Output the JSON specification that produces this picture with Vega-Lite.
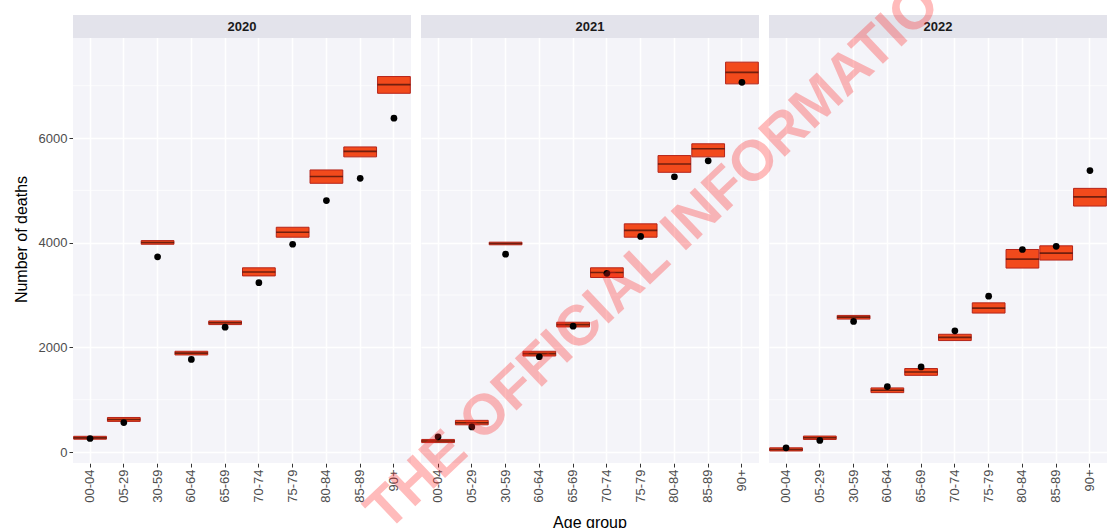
{
  "$schema": "https://vega.github.io/schema/vega-lite/v6.json",
  "padding": {"left": 13, "top": -27, "right": 0, "bottom": 0},
  "background": "white",
  "bounds": "flush",
  "config": {
    "view": {"fill": "#F4F4F9", "stroke": null},
    "font": "Liberation Sans"
  },
  "data": {
    "values": [
      {"year": "2020", "age": "00-04", "lo": 245, "med": 270, "hi": 300, "obs": 258},
      {"year": "2020", "age": "05-29", "lo": 585, "med": 622, "hi": 660, "obs": 562},
      {"year": "2020", "age": "30-59", "lo": 3970, "med": 4005, "hi": 4040, "obs": 3730},
      {"year": "2020", "age": "60-64", "lo": 1855, "med": 1890, "hi": 1925, "obs": 1770},
      {"year": "2020", "age": "65-69", "lo": 2435, "med": 2470, "hi": 2505, "obs": 2385},
      {"year": "2020", "age": "70-74", "lo": 3365, "med": 3440, "hi": 3520, "obs": 3235},
      {"year": "2020", "age": "75-79", "lo": 4105, "med": 4200, "hi": 4295, "obs": 3970},
      {"year": "2020", "age": "80-84", "lo": 5135, "med": 5265, "hi": 5390, "obs": 4805},
      {"year": "2020", "age": "85-89", "lo": 5640, "med": 5745, "hi": 5830, "obs": 5230},
      {"year": "2020", "age": "90+", "lo": 6855, "med": 7020, "hi": 7175, "obs": 6380},
      {"year": "2021", "age": "00-04", "lo": 180, "med": 210, "hi": 240, "obs": 290},
      {"year": "2021", "age": "05-29", "lo": 520, "med": 560, "hi": 605, "obs": 480},
      {"year": "2021", "age": "30-59", "lo": 3960, "med": 3985, "hi": 4010, "obs": 3780},
      {"year": "2021", "age": "60-64", "lo": 1835, "med": 1880, "hi": 1925, "obs": 1820},
      {"year": "2021", "age": "65-69", "lo": 2390, "med": 2435, "hi": 2480, "obs": 2405},
      {"year": "2021", "age": "70-74", "lo": 3335, "med": 3430, "hi": 3520, "obs": 3415},
      {"year": "2021", "age": "75-79", "lo": 4105, "med": 4235, "hi": 4360, "obs": 4120},
      {"year": "2021", "age": "80-84", "lo": 5345, "med": 5505, "hi": 5665, "obs": 5260},
      {"year": "2021", "age": "85-89", "lo": 5640, "med": 5795, "hi": 5890, "obs": 5565},
      {"year": "2021", "age": "90+", "lo": 7035, "med": 7255, "hi": 7450, "obs": 7065},
      {"year": "2022", "age": "00-04", "lo": 20, "med": 48, "hi": 80, "obs": 80},
      {"year": "2022", "age": "05-29", "lo": 240, "med": 272, "hi": 305, "obs": 222},
      {"year": "2022", "age": "30-59", "lo": 2540, "med": 2577, "hi": 2610, "obs": 2495},
      {"year": "2022", "age": "60-64", "lo": 1135, "med": 1180, "hi": 1225, "obs": 1250},
      {"year": "2022", "age": "65-69", "lo": 1465, "med": 1530, "hi": 1595, "obs": 1625},
      {"year": "2022", "age": "70-74", "lo": 2130, "med": 2190, "hi": 2250, "obs": 2315},
      {"year": "2022", "age": "75-79", "lo": 2655, "med": 2750, "hi": 2850, "obs": 2978},
      {"year": "2022", "age": "80-84", "lo": 3515, "med": 3685, "hi": 3870, "obs": 3870},
      {"year": "2022", "age": "85-89", "lo": 3668, "med": 3800, "hi": 3940, "obs": 3930},
      {"year": "2022", "age": "90+", "lo": 4700, "med": 4875, "hi": 5038, "obs": 5378}
    ]
  },
  "spacing": 10,
  "facet": {
    "column": {
      "field": "year",
      "type": "ordinal",
      "title": "Age group",
      "header": {
        "labels": false,
        "titleOrient": "bottom",
        "titleFontSize": 16,
        "titleFontWeight": "normal",
        "titleColor": "#000000",
        "titlePadding": 2,
        "titleFont": "Liberation Sans"
      }
    }
  },
  "spec": {
    "width": 338,
    "height": 448,
    "layer": [
      {
        "transform": [{"filter": "datum.age == '00-04'"}],
        "mark": {"type": "rule", "color": "white", "strokeWidth": 0.7},
        "encoding": {"y": {"datum": 1000, "type": "quantitative"}}
      },
      {
        "transform": [{"filter": "datum.age == '00-04'"}],
        "mark": {"type": "rule", "color": "white", "strokeWidth": 0.7},
        "encoding": {"y": {"datum": 3000, "type": "quantitative"}}
      },
      {
        "transform": [{"filter": "datum.age == '00-04'"}],
        "mark": {"type": "rule", "color": "white", "strokeWidth": 0.7},
        "encoding": {"y": {"datum": 5000, "type": "quantitative"}}
      },
      {
        "transform": [{"filter": "datum.age == '00-04'"}],
        "mark": {"type": "rule", "color": "white", "strokeWidth": 0.7},
        "encoding": {"y": {"datum": 7000, "type": "quantitative"}}
      },
      {
        "transform": [{"filter": "datum.age == '00-04'"}],
        "mark": {"type": "rect", "fill": "#E3E3EB"},
        "encoding": {
          "y": {"datum": 7911, "type": "quantitative"},
          "y2": {"datum": 8351}
        }
      },
      {
        "transform": [{"filter": "datum.age == '00-04'"}],
        "mark": {"type": "text", "fontWeight": "bold", "fontSize": 13, "color": "#1A1A1A", "baseline": "middle", "align": "center"},
        "encoding": {
          "y": {"datum": 8131, "type": "quantitative"},
          "text": {"field": "year"}
        }
      },
      {
        "mark": {"type": "bar", "fill": "#F24A1C", "stroke": "#B5241A", "strokeWidth": 1},
        "encoding": {
          "x": {
            "field": "age",
            "type": "nominal",
            "scale": {"paddingInner": 0.03, "paddingOuter": 0.02},
            "axis": {
              "title": null,
              "labelAngle": 270,
              "grid": true,
              "gridColor": "white",
              "gridWidth": 1.5,
              "bandPosition": 0.5,
              "domain": false,
              "tickColor": "#333333",
              "tickSize": 4,
              "labelFontSize": 13,
              "labelColor": "#4D4D4D",
              "labelPadding": 2
            }
          },
          "y": {
            "field": "lo",
            "type": "quantitative",
            "scale": {"domain": [-210, 8351], "nice": false, "zero": false},
            "axis": {
              "title": "Number of deaths",
              "values": [0, 2000, 4000, 6000],
              "format": "d",
              "grid": true,
              "gridColor": "white",
              "gridWidth": 1.5,
              "domain": false,
              "tickColor": "#333333",
              "tickSize": 4,
              "labelFontSize": 13,
              "labelColor": "#4D4D4D",
              "labelPadding": 2,
              "titleFontSize": 16,
              "titleFontWeight": "normal",
              "titleColor": "#000000",
              "titlePadding": 9
            }
          },
          "y2": {"field": "hi"}
        }
      },
      {
        "mark": {"type": "tick", "color": "#3A0D08", "thickness": 1.6, "size": 33},
        "encoding": {
          "x": {"field": "age", "type": "nominal"},
          "y": {"field": "med", "type": "quantitative"}
        }
      },
      {
        "mark": {"type": "point", "filled": true, "color": "#000000", "opacity": 1, "size": 45},
        "encoding": {
          "x": {"field": "age", "type": "nominal"},
          "y": {"field": "obs", "type": "quantitative"}
        }
      },
      {
        "transform": [{"filter": "datum.year == '2022' && datum.age == '00-04'"}],
        "mark": {"type": "text", "text": "THE OFFICIAL INFORMATIO", "font": "Liberation Sans", "fontWeight": "bold", "fontSize": 57, "angle": -43.4, "align": "center", "baseline": "middle", "dx": -183, "fill": "#FF2020", "opacity": 0.3},
        "encoding": {
          "x": {"field": "age", "type": "nominal"},
          "y": {"datum": 6113, "type": "quantitative"}
        }
      }
    ]
  }
}
